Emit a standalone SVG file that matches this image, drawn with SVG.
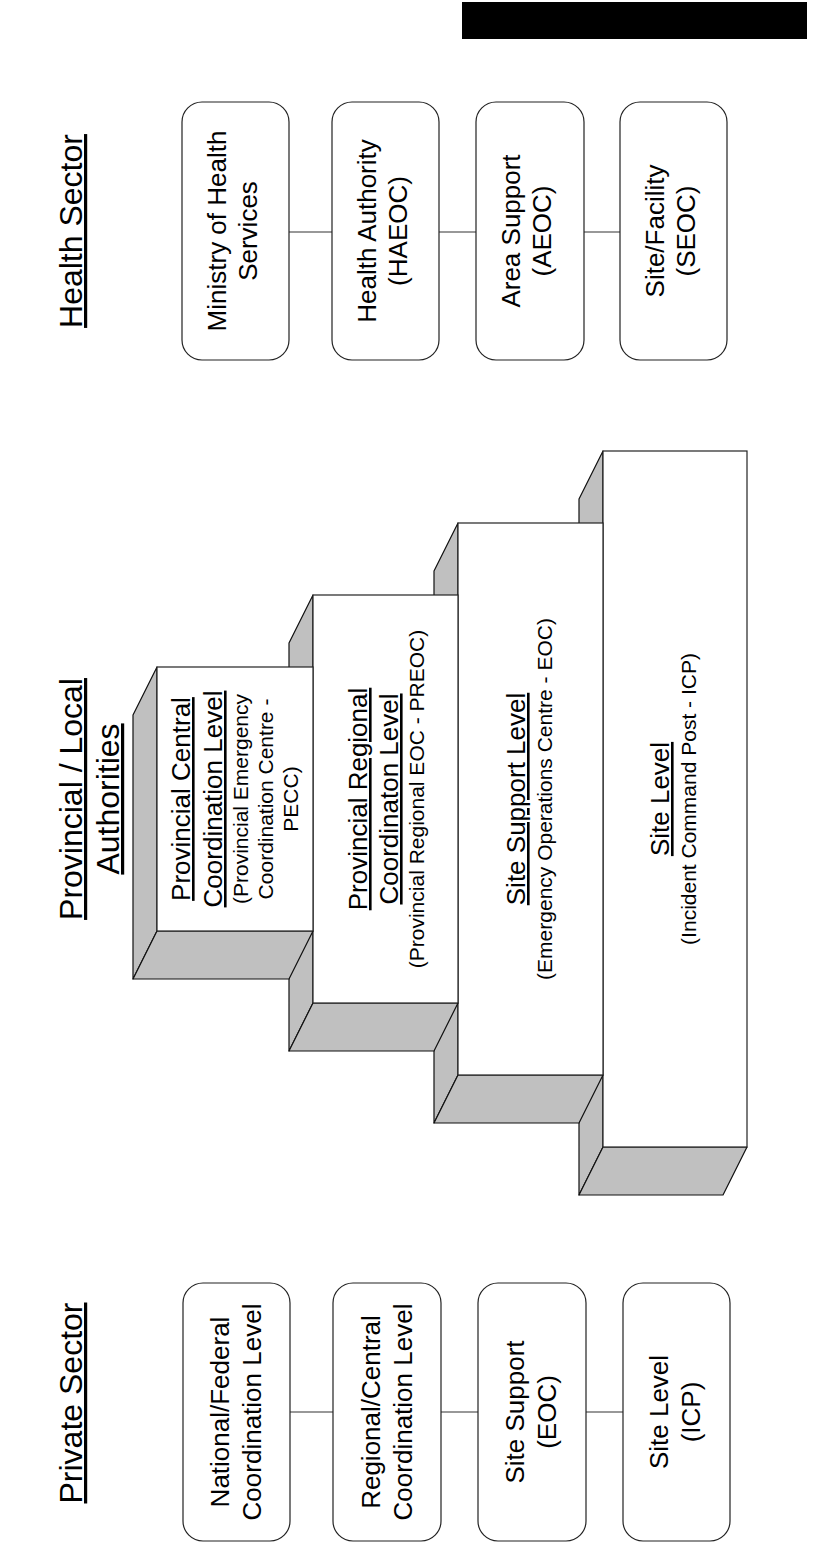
<svg xmlns="http://www.w3.org/2000/svg" width="814" height="1543" viewBox="0 0 814 1543">
<style>
text{font-family:"Liberation Sans",Arial,sans-serif;fill:#000}
.t{font-size:32px;text-decoration:underline}
.m{font-size:26px}
.u{font-size:26px;text-decoration:underline}
.s{font-size:21px}
.box{fill:#fff;stroke:#222;stroke-width:1.2}
.face{fill:#fff;stroke:#222;stroke-width:1.2}
.grey{fill:#c0c0c0;stroke:#111;stroke-width:1.2;stroke-linejoin:round}
.conn{stroke:#333;stroke-width:1.2;fill:none}
</style>
<rect x="0" y="0" width="814" height="1543" fill="#fff"/>
<rect id="redaction" x="462" y="2" width="345" height="37" fill="#000"/>

<g id="titles">
<text class="t" text-anchor="middle" transform="translate(82,231) rotate(-90)">Health Sector</text>
<text class="t" text-anchor="middle" transform="translate(82,1403) rotate(-90)">Private Sector</text>
<g transform="translate(82,799) rotate(-90)">
<text class="t" text-anchor="middle" x="0" y="0">Provincial / Local</text>
<text class="t" text-anchor="middle" x="0" y="37">Authorities</text>
</g>
</g>

<g id="step4">
<polygon class="grey" points="603,451 579,499 579,1195 603,1147"/>
<polygon class="grey" points="603,1147 747,1147 723,1195 579,1195"/>
<rect class="face" x="603" y="451" width="144" height="696"/>
<g transform="translate(0,799) rotate(-90)">
<text class="u" text-anchor="middle" x="0" y="669">Site Level</text>
<text class="s" text-anchor="middle" x="0" y="696">(Incident Command Post - ICP)</text>
</g>
</g>

<g id="step3">
<polygon class="grey" points="458,523 434,571 434,1123 458,1075"/>
<polygon class="grey" points="458,1075 603,1075 579,1123 434,1123"/>
<rect class="face" x="458" y="523" width="145" height="552"/>
<g transform="translate(0,799) rotate(-90)">
<text class="u" text-anchor="middle" x="0" y="525">Site Support Level</text>
<text class="s" text-anchor="middle" x="0" y="552">(Emergency Operations Centre - EOC)</text>
</g>
</g>

<g id="step2">
<polygon class="grey" points="313,595 289,643 289,1051 313,1003"/>
<polygon class="grey" points="313,1003 458,1003 434,1051 289,1051"/>
<rect class="face" x="313" y="595" width="145" height="408"/>
<g transform="translate(0,799) rotate(-90)">
<text class="u" text-anchor="middle" x="0" y="367">Provincial Regional</text>
<text class="u" text-anchor="middle" x="0" y="398">Coordinaton Level</text>
<text class="s" text-anchor="middle" x="0" y="424">(Provincial Regional EOC - PREOC)</text>
</g>
</g>

<g id="step1">
<polygon class="grey" points="157,667 133,715 133,979 157,931"/>
<polygon class="grey" points="157,931 313,931 289,979 133,979"/>
<rect class="face" x="157" y="667" width="156" height="264"/>
<g transform="translate(0,799) rotate(-90)">
<text class="u" text-anchor="middle" x="0" y="190">Provincial Central</text>
<text class="u" text-anchor="middle" x="0" y="222">Coordination Level</text>
<text class="s" text-anchor="middle" x="0" y="248">(Provincial Emergency</text>
<text class="s" text-anchor="middle" x="0" y="273">Coordination Centre -</text>
<text class="s" text-anchor="middle" x="0" y="298">PECC)</text>
</g>
</g>

<g id="connectors">
<line class="conn" x1="289" y1="232" x2="332" y2="232"/>
<line class="conn" x1="439" y1="232" x2="476" y2="232"/>
<line class="conn" x1="584" y1="232" x2="620" y2="232"/>
<line class="conn" x1="290" y1="1412" x2="333" y2="1412"/>
<line class="conn" x1="441" y1="1412" x2="478" y2="1412"/>
<line class="conn" x1="586" y1="1412" x2="623" y2="1412"/>
</g>

<g id="h1">
<rect class="box" x="182" y="102" width="107" height="258" rx="20"/>
<g transform="translate(0,231) rotate(-90)">
<text class="m" text-anchor="middle" x="0" y="226">Ministry of Health</text>
<text class="m" text-anchor="middle" x="0" y="257">Services</text>
</g>
</g>
<g id="h2">
<rect class="box" x="332" y="102" width="107" height="258" rx="20"/>
<g transform="translate(0,231) rotate(-90)">
<text class="m" text-anchor="middle" x="0" y="376">Health Authority</text>
<text class="m" text-anchor="middle" x="0" y="407">(HAEOC)</text>
</g>
</g>
<g id="h3">
<rect class="box" x="476" y="102" width="108" height="258" rx="20"/>
<g transform="translate(0,231) rotate(-90)">
<text class="m" text-anchor="middle" x="0" y="520">Area Support</text>
<text class="m" text-anchor="middle" x="0" y="551">(AEOC)</text>
</g>
</g>
<g id="h4">
<rect class="box" x="620" y="102" width="107" height="258" rx="20"/>
<g transform="translate(0,231) rotate(-90)">
<text class="m" text-anchor="middle" x="0" y="664">Site/Facility</text>
<text class="m" text-anchor="middle" x="0" y="695">(SEOC)</text>
</g>
</g>

<g id="p1">
<rect class="box" x="183" y="1283" width="107" height="258" rx="20"/>
<g transform="translate(0,1412) rotate(-90)">
<text class="m" text-anchor="middle" x="0" y="229">National/Federal</text>
<text class="m" text-anchor="middle" x="0" y="261">Coordination Level</text>
</g>
</g>
<g id="p2">
<rect class="box" x="333" y="1283" width="108" height="258" rx="20"/>
<g transform="translate(0,1412) rotate(-90)">
<text class="m" text-anchor="middle" x="0" y="380">Regional/Central</text>
<text class="m" text-anchor="middle" x="0" y="412">Coordination Level</text>
</g>
</g>
<g id="p3">
<rect class="box" x="478" y="1283" width="108" height="258" rx="20"/>
<g transform="translate(0,1412) rotate(-90)">
<text class="m" text-anchor="middle" x="0" y="524">Site Support</text>
<text class="m" text-anchor="middle" x="0" y="556">(EOC)</text>
</g>
</g>
<g id="p4">
<rect class="box" x="623" y="1283" width="107" height="258" rx="20"/>
<g transform="translate(0,1412) rotate(-90)">
<text class="m" text-anchor="middle" x="0" y="668">Site Level</text>
<text class="m" text-anchor="middle" x="0" y="700">(ICP)</text>
</g>
</g>
</svg>
